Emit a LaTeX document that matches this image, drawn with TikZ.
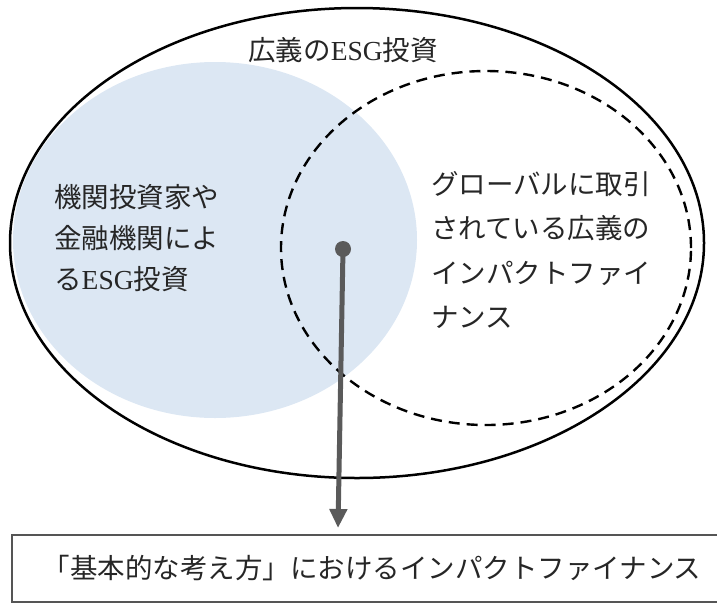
\documentclass[tikz,border=0pt]{standalone}
\usepackage{fontspec}
\newfontfamily\cjk{Noto Sans CJK JP}
\newfontfamily\latsf{Liberation Serif}
\usetikzlibrary{arrows.meta}
\definecolor{lightblue}{HTML}{DCE7F3}
\definecolor{arrowgray}{HTML}{5A5A5A}
\definecolor{boxgray}{HTML}{555555}
\tikzset{
  label text/.style={inner sep=0pt, font=\cjk\fontsize{27.5}{41}\selectfont, text=black!85},
  outer set/.style={draw=black, line width=2.5pt},
  dashed set/.style={draw=black, line width=2.4pt, dash pattern=on 11pt off 7pt},
  blue set/.style={fill=lightblue},
  pointer/.style={draw=arrowgray, line width=5pt, -{Triangle[length=19pt,width=17pt]}},
  result box/.style={draw=boxgray, line width=2pt, minimum width=720pt, minimum height=67pt, inner sep=0pt, font=\cjk\fontsize{27.5}{30}\selectfont, text=black!85},
}
\begin{document}
\begin{tikzpicture}[x=1pt,y=-1pt]
\useasboundingbox (0,0) rectangle (717,606);
% blue set
\fill[blue set] (215,240) ellipse [x radius=202pt, y radius=178pt];
% outer set
\draw[outer set] (357,243) ellipse [x radius=347pt, y radius=235pt];
% dashed set
\draw[dashed set] (486,248) ellipse [x radius=205pt, y radius=177pt];
% labels
\node[label text, anchor=center] (title) at (343,50) {\cjk 広義の\latsf ESG\cjk 投資};
\node[label text, anchor=west, align=left] (left) at (54,238) {機関投資家や\\金融機関によ\\る{\latsf ESG}投資};
\node[label text, anchor=west, align=left, font=\cjk\fontsize{27.5}{44.5}\selectfont] (right) at (431,250) {グローバルに取引\\されている広義の\\インパクトファイ\\ナンス};
% pointer
\node[circle, fill=arrowgray, minimum size=16pt, inner sep=0pt] (dot) at (343,249) {};
\node[result box] (box) at (372,568.5) {「基本的な考え方」におけるインパクトファイナンス};
\coordinate (tip) at (338,528);
\draw[pointer] (dot.center) -- (tip);
\end{tikzpicture}
\end{document}
